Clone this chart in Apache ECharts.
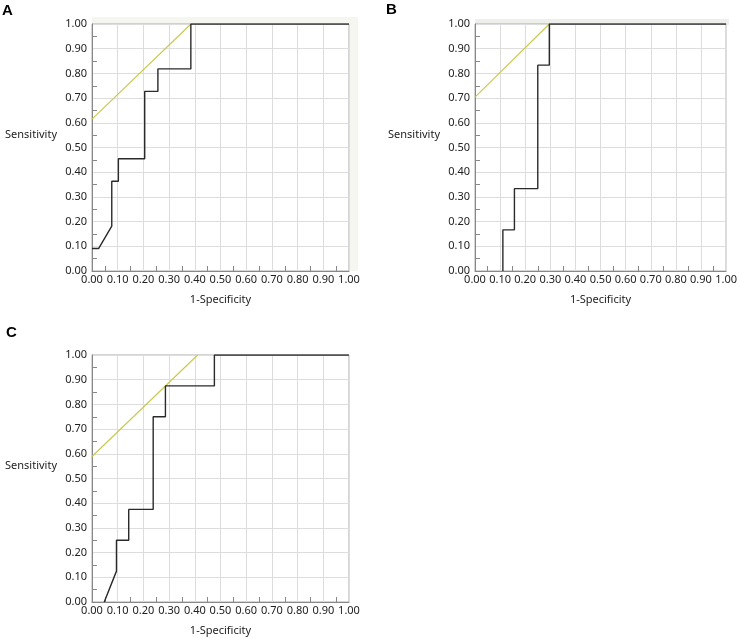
<!DOCTYPE html>
<html>
<head>
<meta charset="utf-8">
<script src="https://cdn.jsdelivr.net/npm/echarts@6/dist/echarts.min.js"></script>
<style>
html,body{margin:0;padding:0;background:#fff;}
#chart{width:740px;height:638px;}
</style>
</head>
<body>
<div id="chart"></div>
<script>
// ---- data ----
var panelLabels = ['A', 'B', 'C'];
var xAxisTitle = '1-Specificity';
var yAxisTitle = 'Sensitivity';

// Panel A ROC curve (1-Specificity, Sensitivity)
var rocA_fpr = [0, 0.0256, 0.0769, 0.0769, 0.1026, 0.1026, 0.2051, 0.2051, 0.2564, 0.2564, 0.3846, 0.3846, 1.0];
var rocA_tpr = [0.0909, 0.0909, 0.1818, 0.3636, 0.3636, 0.4545, 0.4545, 0.7273, 0.7273, 0.8182, 0.8182, 1.0, 1.0];
var refA_fpr = [0, 0.385];
var refA_tpr = [0.615, 1.0];

// Panel B
var rocB_fpr = [0.111, 0.111, 0.157, 0.157, 0.25, 0.25, 0.296, 0.296, 1.0];
var rocB_tpr = [0, 0.1667, 0.1667, 0.3333, 0.3333, 0.8333, 0.8333, 1.0, 1.0];
var refB_fpr = [0, 0.296];
var refB_tpr = [0.704, 1.0];

// Panel C
var rocC_fpr = [0.0476, 0.0952, 0.0952, 0.1429, 0.1429, 0.2381, 0.2381, 0.2857, 0.2857, 0.4762, 0.4762, 1.0];
var rocC_tpr = [0, 0.125, 0.25, 0.25, 0.375, 0.375, 0.75, 0.75, 0.875, 0.875, 1.0, 1.0];
var refC_fpr = [0, 0.411];
var refC_tpr = [0.589, 1.0];

// Tick positions (every 0.05; only the in-between ones get a tick mark)
var tickSteps = ['0.00','0.05','0.10','0.15','0.20','0.25','0.30','0.35','0.40','0.45','0.50',
                 '0.55','0.60','0.65','0.70','0.75','0.80','0.85','0.90','0.95','1.00'];

// ---- build ----
function pairs(xs, ys) { return xs.map(function (x, i) { return [x, ys[i]]; }); }

var FONT = 'Noto Sans';
var grids = [
  { left: 92, top: 24, width: 257, height: 247 },
  { left: 475, top: 24, width: 253, height: 247 },
  { left: 92, top: 355, width: 257, height: 247 }
];
grids.forEach(function (g) {
  g.show = true; g.backgroundColor = '#ffffff'; g.borderColor = '#aaaaaa'; g.borderWidth = 1;
});

function xAx(i) {
  return {
    type: 'value', gridIndex: i, min: 0, max: 1, interval: 0.1, position: 'bottom',
    name: xAxisTitle, nameLocation: 'middle', nameGap: 23,
    nameTextStyle: { fontFamily: FONT, fontSize: 11, color: '#222' },
    axisLine: { show: true, lineStyle: { color: '#888', width: 1 } },
    axisTick: { show: false },
    axisLabel: { fontFamily: FONT, fontSize: 11, color: '#222', margin: 3,
      formatter: function (v) { return v.toFixed(2); } },
    splitLine: { show: true, lineStyle: { color: '#dddddd', width: 1 } }
  };
}
function yAx(i) {
  return {
    type: 'value', gridIndex: i, min: 0, max: 1, interval: 0.1, position: 'left',
    axisLine: { show: true, lineStyle: { color: '#888', width: 1 } },
    axisTick: { show: false },
    axisLabel: { fontFamily: FONT, fontSize: 11, color: '#222', margin: 5,
      formatter: function (v) { return v.toFixed(2); } },
    splitLine: { show: true, lineStyle: { color: '#dddddd', width: 1 } }
  };
}
function tickAx(i, pos) {
  return {
    type: 'category', gridIndex: i, position: pos, boundaryGap: false, data: tickSteps,
    axisLine: { show: false },
    axisLabel: { show: false },
    splitLine: { show: false },
    axisTick: { show: true, inside: true, length: 5, alignWithLabel: true,
      interval: function (idx) { return idx % 2 === 1; },
      lineStyle: { color: '#888', width: 1 } },
    silent: true
  };
}

var refSets = [pairs(refA_fpr, refA_tpr), pairs(refB_fpr, refB_tpr), pairs(refC_fpr, refC_tpr)];
var rocSets = [pairs(rocA_fpr, rocA_tpr), pairs(rocB_fpr, rocB_tpr), pairs(rocC_fpr, rocC_tpr)];

var xAxes = [xAx(0), xAx(1), xAx(2), tickAx(0, 'bottom'), tickAx(1, 'bottom'), tickAx(2, 'bottom')];
var yAxes = [yAx(0), yAx(1), yAx(2), tickAx(0, 'left'), tickAx(1, 'left'), tickAx(2, 'left')];

var series = [];
for (var i = 0; i < 3; i++) {
  series.push({
    type: 'line', xAxisIndex: i, yAxisIndex: i, data: refSets[i],
    showSymbol: false, symbol: 'none', silent: true, animation: false,
    lineStyle: { color: '#c8c84a', width: 1.1 }, z: 2
  });
  series.push({
    type: 'line', xAxisIndex: i, yAxisIndex: i, data: rocSets[i],
    showSymbol: false, symbol: 'none', silent: true, animation: false,
    lineStyle: { color: '#2a2a2a', width: 1.4 }, z: 3
  });
}

var titlePos = [{ left: 2, top: 3 }, { left: 386, top: 2 }, { left: 6, top: 325 }];
var titles = panelLabels.map(function (t, i) {
  return { text: t, left: titlePos[i].left, top: titlePos[i].top, padding: 0,
    textStyle: { fontFamily: 'Liberation Sans', fontWeight: 'bold', fontSize: 15, color: '#000' } };
});
// y-axis titles, right-aligned next to each panel's tick labels
var yTitlePos = [{ right: 683, top: 127 }, { right: 300, top: 127 }, { right: 683, top: 458 }];
yTitlePos.forEach(function (p) {
  titles.push({ text: yAxisTitle, right: p.right, top: p.top, padding: 0,
    textStyle: { fontFamily: FONT, fontWeight: 'normal', fontSize: 11, lineHeight: 16, color: '#222' } });
});

var option = {
  animation: false,
  backgroundColor: '#ffffff',
  title: titles,
  graphic: [
    { type: 'rect', z: -10, silent: true, shape: { x: 92, y: 17, width: 266, height: 254 }, style: { fill: '#f6f6f1' } },
    { type: 'rect', z: -10, silent: true, shape: { x: 475, y: 19, width: 254, height: 6 }, style: { fill: '#eeeeea' } }
  ],
  grid: grids,
  xAxis: xAxes,
  yAxis: yAxes,
  series: series
};

var chart = echarts.init(document.getElementById('chart'), null, { renderer: 'canvas' });
chart.setOption(option);
</script>
</body>
</html>
